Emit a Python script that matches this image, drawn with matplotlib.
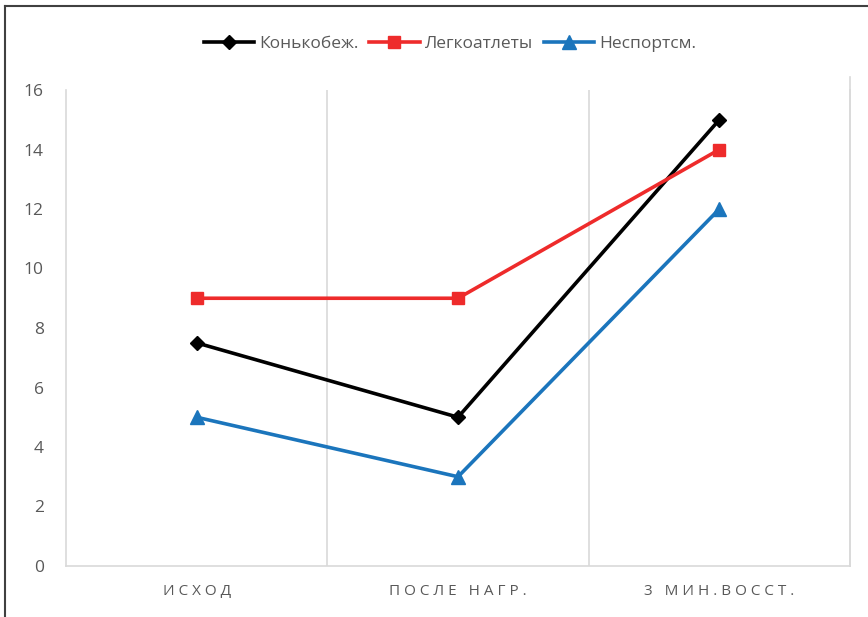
import matplotlib
matplotlib.use("Agg")
import matplotlib.pyplot as plt
from matplotlib.lines import Line2D

categories = ["ИСХОД", "ПОСЛЕ НАГР.", "3 МИН.ВОССТ."]
series_names = ["Конькобеж.", "Легкоатлеты", "Неспортсм."]
skaters = [7.5, 5, 15]
athletes = [9, 9, 14]
nonsport = [5, 3, 12]
y_ticks = [0, 2, 4, 6, 8, 10, 12, 14, 16]

plt.rcParams['font.family'] = ['Open Sans', 'DejaVu Sans']

W, H = 868, 617
fig = plt.figure(figsize=(W / 100, H / 100), dpi=100)
ax = fig.add_axes([66 / W, 1 - 566 / H, (850 - 66) / W, (566 - 90) / H])

x = list(range(len(categories)))
ax.plot(x, skaters, color="black", lw=2.6, marker="D", ms=7.5, label=series_names[0], zorder=3)
ax.plot(x, athletes, color="#EE2B2B", lw=2.6, marker="s", ms=9, label=series_names[1], zorder=3)
ax.plot(x, nonsport, color="#1B75BC", lw=2.6, marker="^", ms=10, label=series_names[2], zorder=3)

ax.set_xlim(-0.5, len(categories) - 0.5)
ax.set_ylim(0, 16)
ax.set_yticks(y_ticks)
ax.set_yticklabels([str(v) for v in y_ticks], fontsize=12.5, color="#595959")
ax.set_xticks(x)
spaced = ["\u2009\u200a".join(list(c)) for c in categories]
ax.set_xticklabels(spaced, fontsize=11, color="#595959")
ax.tick_params(axis="both", length=0)
ax.tick_params(axis="y", pad=16)
ax.tick_params(axis="x", pad=13)

for b in [0.5, 1.5]:
    ax.axvline(b, color="#D9D9D9", lw=1.2, zorder=1)
for s in ["left", "right", "bottom"]:
    ax.spines[s].set_color("#D9D9D9")
    ax.spines[s].set_linewidth(1.2)
ax.spines["top"].set_visible(False)
fig.add_artist(Line2D([850 / W, 850 / W], [1 - 566 / H, 1 - 77 / H], color="#D9D9D9", lw=1.2,
                      transform=fig.transFigure))

leg = fig.legend(loc="center", bbox_to_anchor=(450 / W, 1 - 44 / H), ncol=3, frameon=False,
                 fontsize=12.5, handlelength=2.9, columnspacing=0.6, handletextpad=0.3)
for t in leg.get_texts():
    t.set_color("#595959")

# outer dark border (left & top)
fig.add_artist(Line2D([5 / W, 5 / W], [0, 1 - 6 / H], color="#404040", lw=1.5, transform=fig.transFigure))
fig.add_artist(Line2D([5 / W, 1], [1 - 6 / H, 1 - 6 / H], color="#404040", lw=1.5, transform=fig.transFigure))

fig.savefig("out.png", dpi=100)
